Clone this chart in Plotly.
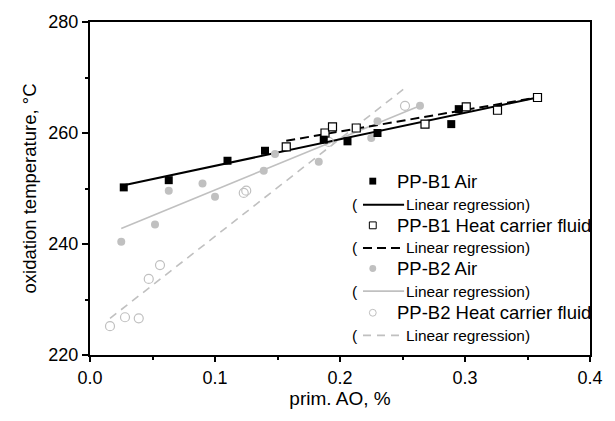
import plotly.graph_objects as go

# ---------------- data ----------------
b1_air_x = [0.027, 0.063, 0.110, 0.140, 0.187, 0.206, 0.230, 0.289, 0.295]
b1_air_y = [250.2, 251.5, 255.0, 256.8, 258.8, 258.5, 260.0, 261.6, 264.3]

b1_hcf_x = [0.157, 0.188, 0.194, 0.213, 0.268, 0.301, 0.326, 0.358]
b1_hcf_y = [257.5, 260.0, 261.1, 260.9, 261.6, 264.7, 264.1, 266.4]

b2_air_x = [0.025, 0.052, 0.063, 0.090, 0.100, 0.139, 0.148, 0.183, 0.225, 0.230, 0.264]
b2_air_y = [240.4, 243.5, 249.6, 250.9, 248.5, 253.2, 256.2, 254.8, 259.1, 262.1, 264.9]

b2_hcf_x = [0.016, 0.028, 0.039, 0.047, 0.056, 0.123, 0.125, 0.191, 0.252]
b2_hcf_y = [225.2, 226.8, 226.6, 233.7, 236.2, 249.2, 249.6, 258.4, 264.9]

# regression line end points (as drawn)
reg_b1_air_x = [0.027, 0.358]
reg_b1_air_y = [250.6, 266.4]
reg_b1_hcf_x = [0.157, 0.358]
reg_b1_hcf_y = [258.6, 266.4]
reg_b2_air_x = [0.025, 0.264]
reg_b2_air_y = [242.8, 264.9]
reg_b2_hcf_x = [0.016, 0.252]
reg_b2_hcf_y = [226.6, 268.1]

x_ticks = [0.0, 0.1, 0.2, 0.3, 0.4]
x_ticklabels = ["0.0", "0.1", "0.2", "0.3", "0.4"]
y_ticks = [220, 240, 260, 280]

series_names = ["PP-B1 Air", "PP-B1 Heat carrier fluid", "PP-B2 Air", "PP-B2 Heat carrier fluid"]
reg_name = "Linear regression)"

GRAY = "#c0c0c0"
FONT = "Liberation Sans, Arial, sans-serif"

W, H = 615, 421
ML, MR, MT, MB = 90, 14, 16, 66

fig = go.Figure()

# regression lines
fig.add_trace(go.Scatter(x=reg_b2_hcf_x, y=reg_b2_hcf_y, mode="lines",
                         line=dict(color=GRAY, width=1.6, dash="8px,6px"), showlegend=False))
fig.add_trace(go.Scatter(x=reg_b2_air_x, y=reg_b2_air_y, mode="lines",
                         line=dict(color=GRAY, width=1.6), showlegend=False))
fig.add_trace(go.Scatter(x=reg_b1_hcf_x, y=reg_b1_hcf_y, mode="lines",
                         line=dict(color="black", width=2, dash="9px,5px"), showlegend=False))
fig.add_trace(go.Scatter(x=reg_b1_air_x, y=reg_b1_air_y, mode="lines",
                         line=dict(color="black", width=2), showlegend=False))

# points
fig.add_trace(go.Scatter(x=b2_hcf_x, y=b2_hcf_y, mode="markers", name=series_names[3],
                         marker=dict(symbol="circle-open", size=9, color=GRAY, line=dict(width=1.2)),
                         showlegend=False))
fig.add_trace(go.Scatter(x=b2_air_x, y=b2_air_y, mode="markers", name=series_names[2],
                         marker=dict(symbol="circle", size=8, color=GRAY), showlegend=False))
fig.add_trace(go.Scatter(x=b1_hcf_x, y=b1_hcf_y, mode="markers", name=series_names[1],
                         marker=dict(symbol="square", size=8, color="white",
                                     line=dict(color="black", width=1.2)), showlegend=False))
fig.add_trace(go.Scatter(x=b1_air_x, y=b1_air_y, mode="markers", name=series_names[0],
                         marker=dict(symbol="square", size=8, color="black"), showlegend=False))

# ---------------- manual legend (paper coordinates) ----------------
pw, ph = W - ML - MR, H - MT - MB
def px(xp):
    return (xp - ML) / pw
def py(yp):
    return (H - MB - yp) / ph

shapes = []
annotations = []
row_y = [178, 202, 223, 246, 267, 290, 312, 335]
mk_x = 379
txt_x = 404
line_x0, line_x1 = 369, 411
paren_x = 356

# markers in legend
s = 3.5
shapes.append(dict(type="rect", xref="paper", yref="paper",
                   x0=px(mk_x - s), x1=px(mk_x + s), y0=py(row_y[0] + s), y1=py(row_y[0] - s),
                   fillcolor="black", line=dict(width=0)))
shapes.append(dict(type="rect", xref="paper", yref="paper",
                   x0=px(mk_x - s), x1=px(mk_x + s), y0=py(row_y[2] + s), y1=py(row_y[2] - s),
                   fillcolor="white", line=dict(color="black", width=1)))
shapes.append(dict(type="circle", xref="paper", yref="paper",
                   x0=px(mk_x - s), x1=px(mk_x + s), y0=py(row_y[4] + s), y1=py(row_y[4] - s),
                   fillcolor=GRAY, line=dict(width=0)))
shapes.append(dict(type="circle", xref="paper", yref="paper",
                   x0=px(mk_x - s), x1=px(mk_x + s), y0=py(row_y[6] + s), y1=py(row_y[6] - s),
                   fillcolor="white", line=dict(color=GRAY, width=1)))

line_styles = [("black", 2, "solid"), ("black", 2, "9px,5px"),
               (GRAY, 1.6, "solid"), (GRAY, 1.6, "8px,6px")]
for i, (col, wdt, dsh) in enumerate(line_styles):
    yy = row_y[2 * i + 1]
    shapes.append(dict(type="line", xref="paper", yref="paper",
                       x0=px(line_x0), x1=px(line_x1), y0=py(yy), y1=py(yy),
                       line=dict(color=col, width=wdt, dash=dsh)))
    annotations.append(dict(xref="paper", yref="paper", x=px(paren_x), y=py(yy),
                            text="(", showarrow=False, xanchor="left", yanchor="middle",
                            font=dict(family=FONT, size=15.5, color="black")))
    annotations.append(dict(xref="paper", yref="paper", x=px(txt_x + 7), y=py(yy),
                            text=reg_name, showarrow=False, xanchor="left", yanchor="middle",
                            font=dict(family=FONT, size=15.4, color="black")))
    annotations.append(dict(xref="paper", yref="paper", x=px(txt_x - 2), y=py(row_y[2 * i]),
                            text=series_names[i], showarrow=False, xanchor="left", yanchor="middle",
                            font=dict(family=FONT, size=18.5, color="black")))

fig.update_layout(
    width=W, height=H,
    margin=dict(l=ML, r=MR, t=MT, b=MB),
    paper_bgcolor="white", plot_bgcolor="white",
    font=dict(family=FONT, color="black"),
    shapes=shapes, annotations=annotations,
    showlegend=False,
)
fig.update_xaxes(
    range=[0, 0.4], tickvals=x_ticks, ticktext=x_ticklabels,
    ticks="outside", ticklen=5, tickwidth=2, tickcolor="black",
    minor=dict(ticks="outside", ticklen=3, tickwidth=2, tickcolor="black", dtick=0.05),
    showline=True, linewidth=2, linecolor="black", mirror=True,
    showgrid=False, zeroline=False,
    tickfont=dict(family=FONT, size=18),
    title=dict(text="prim. AO, %", font=dict(family=FONT, size=19), standoff=3),
)
fig.update_yaxes(
    range=[220, 280], tickvals=y_ticks,
    ticks="outside", ticklen=6, tickwidth=2, tickcolor="black",
    minor=dict(ticks="outside", ticklen=3, tickwidth=2, tickcolor="black", dtick=10),
    showline=True, linewidth=2, linecolor="black", mirror=True,
    showgrid=False, zeroline=False,
    tickfont=dict(family=FONT, size=18),
    title=dict(text="oxidation temperature, °C", font=dict(family=FONT, size=18.5), standoff=7),
)

fig.write_html("out.html")
